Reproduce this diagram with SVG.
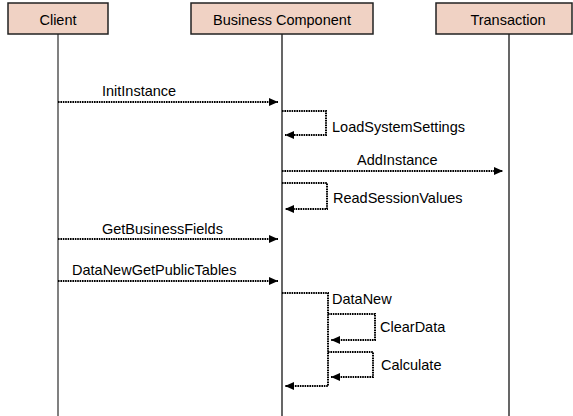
<svg xmlns="http://www.w3.org/2000/svg" width="573" height="416" viewBox="0 0 573 416">
<defs>
<marker id="ah" markerUnits="userSpaceOnUse" markerWidth="10" markerHeight="8" refX="9" refY="4" orient="auto">
<path d="M0,0 L9,4 L0,8 z" fill="#000"/>
</marker>
<style>
.box{fill:#f0d2c4;stroke:#222;stroke-width:1.5}
.t{font-family:"Liberation Sans",Arial,sans-serif;font-size:14.5px;fill:#000}
.c{text-anchor:middle}
.msg{fill:none;stroke:#000;stroke-width:2;stroke-dasharray:1.6,0.8;marker-end:url(#ah)}
</style>
</defs>
<rect width="573" height="416" fill="#fff"/>
<g id="client">
<line x1="58" y1="34" x2="58" y2="416" stroke="#808080" stroke-width="2"/>
<rect class="box" x="8" y="3" width="100" height="31"/>
<text class="t c" x="58" y="25">Client</text>
</g>
<g id="business-component">
<line x1="282" y1="34" x2="282" y2="416" stroke="#000" stroke-width="1.2"/>
<rect class="box" x="191" y="3" width="182" height="31"/>
<text class="t c" x="282" y="25">Business Component</text>
</g>
<g id="transaction">
<line x1="509" y1="34" x2="509" y2="416" stroke="#000" stroke-width="1.2"/>
<rect class="box" x="436" y="3" width="136" height="31"/>
<text class="t c" x="508" y="25">Transaction</text>
</g>
<g id="connectors">
<path class="msg" d="M58,102 H278"/>
<text class="t" x="102" y="96">InitInstance</text>
<path class="msg" d="M282,111 H326 V135 H285"/>
<text class="t" x="332" y="132">LoadSystemSettings</text>
<path class="msg" d="M282,171 H503"/>
<text class="t" x="357" y="165">AddInstance</text>
<path class="msg" d="M282,183 H327 V209 H285"/>
<text class="t" x="333" y="203">ReadSessionValues</text>
<path class="msg" d="M58,239 H278"/>
<text class="t" x="102" y="234">GetBusinessFields</text>
<path class="msg" d="M58,281 H278"/>
<text class="t" x="72" y="275">DataNewGetPublicTables</text>
<path class="msg" d="M282,293 H328 V386 H285"/>
<text class="t" x="332" y="304">DataNew</text>
<path class="msg" d="M328,314 H375 V340 H331"/>
<text class="t" x="380" y="332">ClearData</text>
<path class="msg" d="M328,352 H373 V377 H331"/>
<text class="t" x="381" y="370">Calculate</text>
</g>
</svg>
